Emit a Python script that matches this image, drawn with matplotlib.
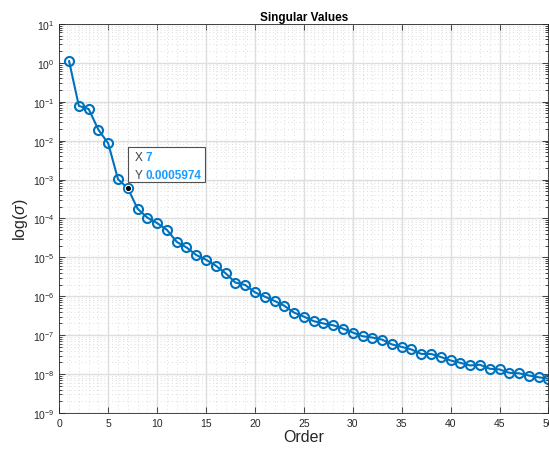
import matplotlib
matplotlib.use("Agg")
import matplotlib.pyplot as plt
import numpy as np
from matplotlib.patches import Rectangle
from matplotlib.ticker import LogLocator, MultipleLocator, NullFormatter

plt.rcParams['font.family'] = ['Liberation Sans', 'DejaVu Sans']
plt.rcParams['mathtext.fontset'] = 'custom'
plt.rcParams['mathtext.it'] = 'Liberation Sans:italic'

# singular values by order
order = list(range(1, 51))
sv = [1.1, 0.078, 0.065, 0.019, 0.0085, 0.00102, 0.0005974, 1.78e-4, 1.05e-4, 7.6e-5,
      5.1e-5, 2.5e-5, 1.8e-5, 1.15e-5, 8.7e-6, 6.1e-6, 3.9e-6, 2.25e-6, 1.95e-6, 1.26e-6,
      9.8e-7, 7.6e-7, 5.7e-7, 3.8e-7, 3.0e-7, 2.3e-7, 2.0e-7, 1.8e-7, 1.48e-7, 1.17e-7,
      9.4e-8, 8.7e-8, 7.7e-8, 5.8e-8, 5.0e-8, 4.3e-8, 3.3e-8, 3.3e-8, 2.75e-8, 2.24e-8,
      1.95e-8, 1.67e-8, 1.74e-8, 1.37e-8, 1.32e-8, 1.08e-8, 1.05e-8, 9.2e-9, 8.3e-9, 7.6e-9]
tip_x = 7
tip_y = 0.0005974

blue = '#0072BD'

fig = plt.figure(figsize=(5.49, 4.52), dpi=100)
ax = fig.add_axes([0.108, 0.084, 0.891, 0.861])

ax.plot(order, sv, '-o', color=blue, lw=1.5, ms=6.5, mfc='none', mew=1.5)
ax.set_yscale('log')
ax.set_xlim(0, 50)
ax.set_ylim(1e-9, 1e1)

ax.xaxis.set_major_locator(MultipleLocator(5))
ax.xaxis.set_minor_locator(MultipleLocator(1))
ax.yaxis.set_major_locator(LogLocator(base=10, numticks=20))
ax.yaxis.set_minor_locator(LogLocator(base=10, subs=np.arange(2, 10), numticks=200))
ax.yaxis.set_minor_formatter(NullFormatter())

ax.grid(True, which='major', color='#dedede', lw=1.0, ls='-')
ax.grid(True, which='minor', color='#d2d2d2', lw=0.6, ls=(0, (1, 3.5)))
ax.set_axisbelow(True)

ax.tick_params(which='both', direction='in', top=True, right=True, labelsize=7.5,
               colors='#262626', width=0.6)
ax.tick_params(which='major', length=4)
ax.tick_params(which='minor', length=2.5)
ax.tick_params(axis='x', which='minor', length=0)
for s in ax.spines.values():
    s.set_color('#262626')
    s.set_linewidth(0.6)

ax.set_title('Singular Values', fontsize=8.5, fontweight='bold', pad=3)
ax.set_xlabel('Order', fontsize=11.5, color='#262626', labelpad=1)
ax.set_ylabel(r'log($\sigma$)', fontsize=11.5, color='#262626', labelpad=2)

# data tip
ax.plot([tip_x], [tip_y], 'o', color='black', ms=4.5, mec='white', mew=0.8, zorder=5)
box_x0, box_x1 = 7.0, 14.9
box_y0, box_y1 = 8.5e-4, 6.8e-3
ax.add_patch(Rectangle((box_x0, box_y0), box_x1 - box_x0, box_y1 - box_y0,
                       fc='white', ec='#505050', lw=0.8, zorder=6))
tip_blue = '#1a9bff'
ax.text(7.7, 3.7e-3, 'X', fontsize=8.5, color='#404040', va='center', zorder=7)
ax.text(8.85, 3.7e-3, str(tip_x), fontsize=8.5, color=tip_blue, fontweight='bold',
        va='center', zorder=7)
ax.text(7.7, 1.3e-3, 'Y', fontsize=8.5, color='#404040', va='center', zorder=7)
ax.text(8.85, 1.3e-3, str(tip_y), fontsize=8.5, color=tip_blue, fontweight='bold',
        va='center', zorder=7)

fig.savefig('out.png', dpi=100)
